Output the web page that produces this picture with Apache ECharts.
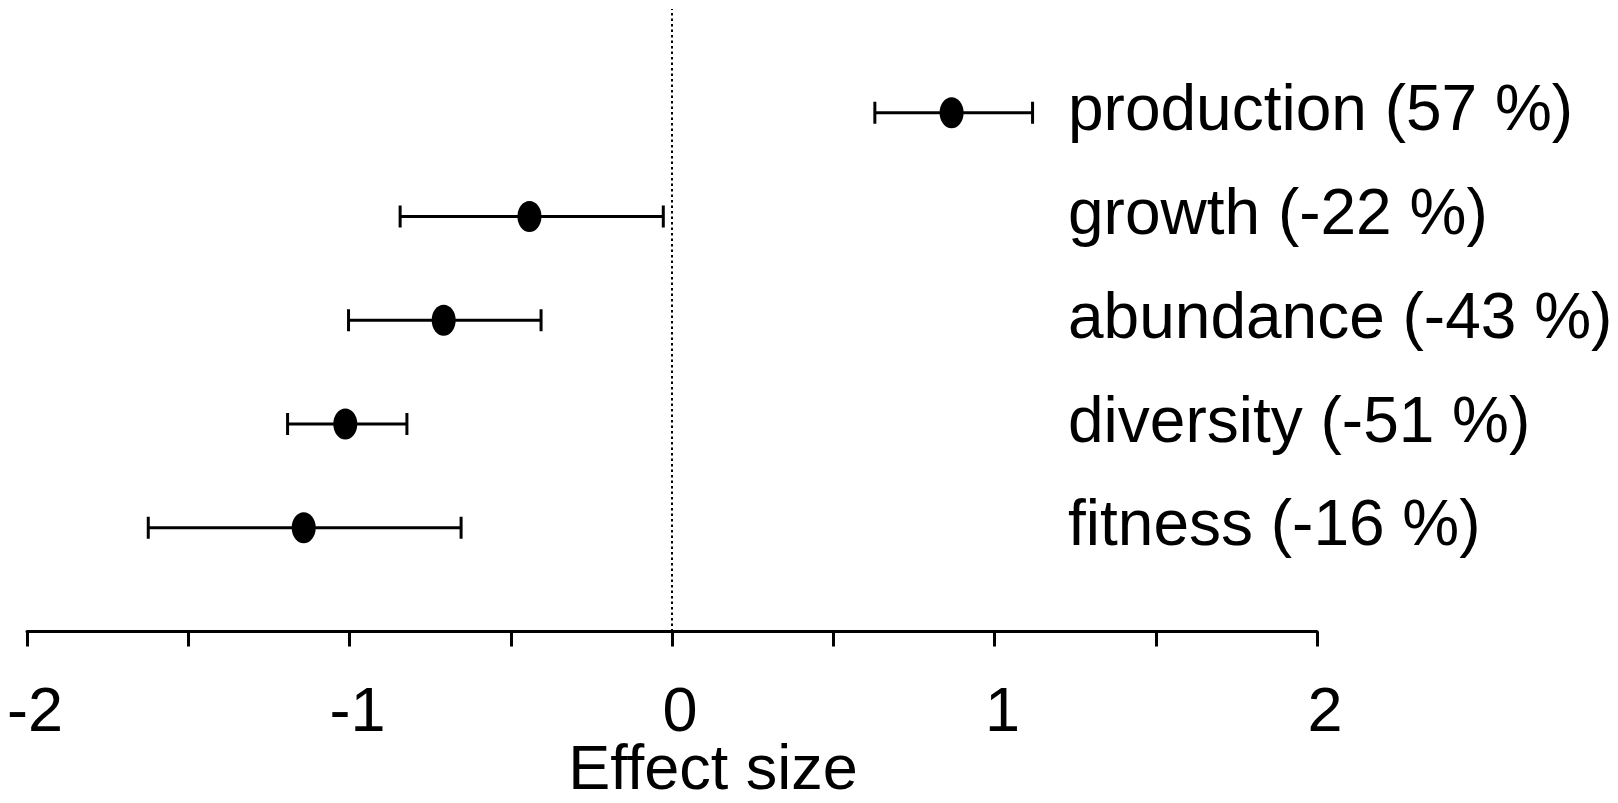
<!DOCTYPE html>
<html>
<head>
<meta charset="utf-8">
<script src="https://cdn.jsdelivr.net/npm/echarts@6/dist/echarts.min.js"></script>
<style>
html,body{margin:0;padding:0;background:#fff;}
#chart{width:1618px;height:803px;}
</style>
</head>
<body>
<div id="chart"></div>
<script>
// Outcome labels, bottom to top (y positions 1..5)
const categories = ['fitness (-16 %)', 'diversity (-51 %)', 'abundance (-43 %)', 'growth (-22 %)', 'production (57 %)'];
const yPos = [1, 2, 3, 4, 5];
const effect = [-1.142, -1.013, -0.708, -0.442, 0.867];
const lower = [-1.624, -1.192, -1.003, -0.843, 0.629];
const upper = [-0.654, -0.822, -0.406, -0.027, 1.118];
const xTickLabels = ['-2', '-1', '0', '1', '2'];

const FONT = '"Liberation Sans", Arial, sans-serif';

const pointData = effect.map((v, i) => [v, yPos[i]]);
const barData = effect.map((v, i) => [lower[i], upper[i], yPos[i]]);

const chart = echarts.init(document.getElementById('chart'));
chart.setOption({
  animation: false,
  backgroundColor: '#fff',
  grid: { left: 27, right: 301, top: 9, bottom: 171.5, containLabel: false },
  xAxis: {
    type: 'value', min: -2, max: 2, interval: 0.5,
    splitLine: { show: false },
    axisLine: { show: true, lineStyle: { color: '#000', width: 3 } },
    axisTick: { show: true, length: 15, lineStyle: { color: '#000', width: 3 } },
    axisLabel: {
      fontSize: 63, color: '#000', fontFamily: FONT, margin: 51,
      padding: [0, 0, 0, 16],
      formatter: v => {
        const idx = Math.round(v + 2);
        return Number.isInteger(v) && xTickLabels[idx] !== undefined ? xTickLabels[idx] : '';
      }
    }
  },
  yAxis: {
    type: 'value', min: 0, max: 6, interval: 1,
    position: 'right', offset: -249,
    splitLine: { show: false },
    axisLine: { show: false },
    axisTick: { show: false },
    axisLabel: {
      align: 'left', margin: 0, fontSize: 64, color: '#000', fontFamily: FONT,
      padding: [0, 0, 20, 0],
      formatter: v => (v >= 1 && v <= 5) ? categories[v - 1] : ''
    }
  },
  graphic: [{
    type: 'text',
    x: 713, y: 772,
    style: { text: 'Effect size', fontSize: 63, fontFamily: FONT, fill: '#000', align: 'center', verticalAlign: 'middle' }
  }],
  series: [
    {
      type: 'custom',
      data: barData,
      renderItem: (params, api) => {
        const p1 = api.coord([api.value(0), api.value(2)]);
        const p2 = api.coord([api.value(1), api.value(2)]);
        const h = 11;
        const style = { stroke: '#000', lineWidth: 3, fill: null };
        return {
          type: 'group',
          children: [
            { type: 'line', shape: { x1: p1[0], y1: p1[1], x2: p2[0], y2: p2[1] }, style },
            { type: 'line', shape: { x1: p1[0], y1: p1[1] - h, x2: p1[0], y2: p1[1] + h }, style },
            { type: 'line', shape: { x1: p2[0], y1: p2[1] - h, x2: p2[0], y2: p2[1] + h }, style }
          ]
        };
      },
      z: 2
    },
    {
      type: 'scatter',
      data: pointData,
      symbol: 'circle',
      symbolSize: [24, 31],
      itemStyle: { color: '#000', opacity: 1 },
      z: 3,
      markLine: {
        silent: true,
        symbol: 'none',
        label: { show: false },
        lineStyle: { color: '#000', width: 2, type: [2.5, 3], opacity: 1 },
        data: [{ xAxis: 0 }]
      }
    }
  ]
});
</script>
</body>
</html>
